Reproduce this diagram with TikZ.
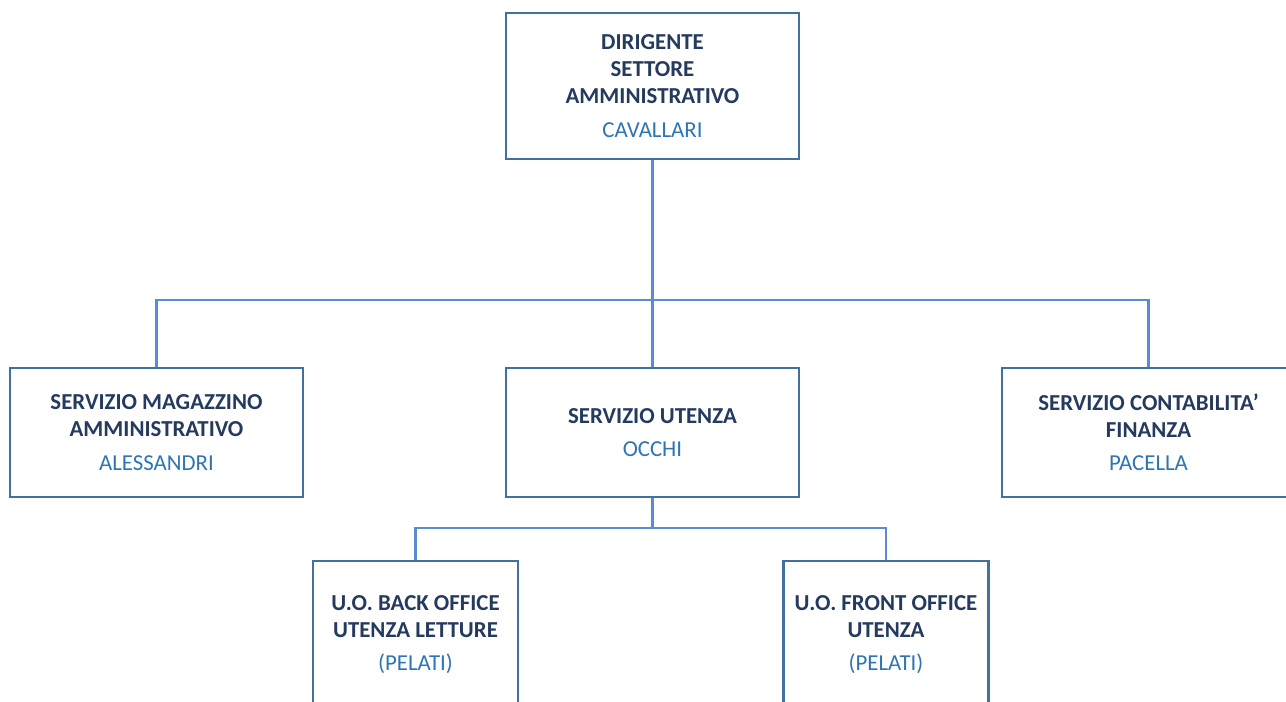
\documentclass[tikz,border=0pt]{standalone}
\usepackage{fontspec}
\setmainfont{Carlito}
\usepackage{tikz}
\usetikzlibrary{positioning,calc}
\definecolor{boxline}{HTML}{41719C}
\definecolor{linkline}{HTML}{5B8BD0}
\definecolor{titletext}{HTML}{243A5E}
\definecolor{nametext}{HTML}{2E75B6}
\tikzset{
  unit/.style={draw=boxline, line width=1.2pt, fill=white, inner sep=0pt, align=center,
    font=\fontsize{13}{15.4}\selectfont\bfseries, text=titletext},
  bigunit/.style={unit, minimum width=5.86cm},
  smallunit/.style={unit, minimum width=4.1cm, minimum height=2.94cm},
  link/.style={draw=linkline, line width=1.2pt}
}
\newcommand{\who}[1]{\\[3.6pt]\mdseries\color{nametext}#1}
\begin{document}
\begin{tikzpicture}[x=0.02cm,y=-0.02cm]
\useasboundingbox (0,0) rectangle (1286,701);
\clip (0,0) rectangle (1286,701);
\fill[white] (0,0) rectangle (1286,701);
% boxes
\node[bigunit, minimum height=2.92cm] (dir) at (652.5,86) {DIRIGENTE\\SETTORE\\AMMINISTRATIVO\who{CAVALLARI}};
\node[bigunit, minimum height=2.58cm] (mag) at (156.5,432.5) {SERVIZIO MAGAZZINO\\AMMINISTRATIVO\who{ALESSANDRI}};
\node[bigunit, minimum height=2.58cm] (ute) at (652.5,432.5) {SERVIZIO UTENZA\who{OCCHI}};
\node[bigunit, minimum height=2.58cm] (con) at (1148.5,432.5) {SERVIZIO CONTABILITA’\\FINANZA\who{PACELLA}};
\node[smallunit] (back) at (415.5,634.5) {U.O. BACK OFFICE\\UTENZA LETTURE\who{(PELATI)}};
\node[smallunit] (front) at (886,634.5) {U.O. FRONT OFFICE\\UTENZA\who{(PELATI)}};
% connectors
\coordinate (bus) at (652.5,300);
\coordinate (bustwo) at (652.5,528);
\draw[link] (dir.south) -- (bus);
\draw[link] (bus) -- (ute.north);
\draw[link] (mag.north) |- (bus) -| (con.north);
\draw[link] (ute.south) -- (bustwo);
\draw[link] (back.north) |- (bustwo) -| (front.north);
\end{tikzpicture}
\end{document}
